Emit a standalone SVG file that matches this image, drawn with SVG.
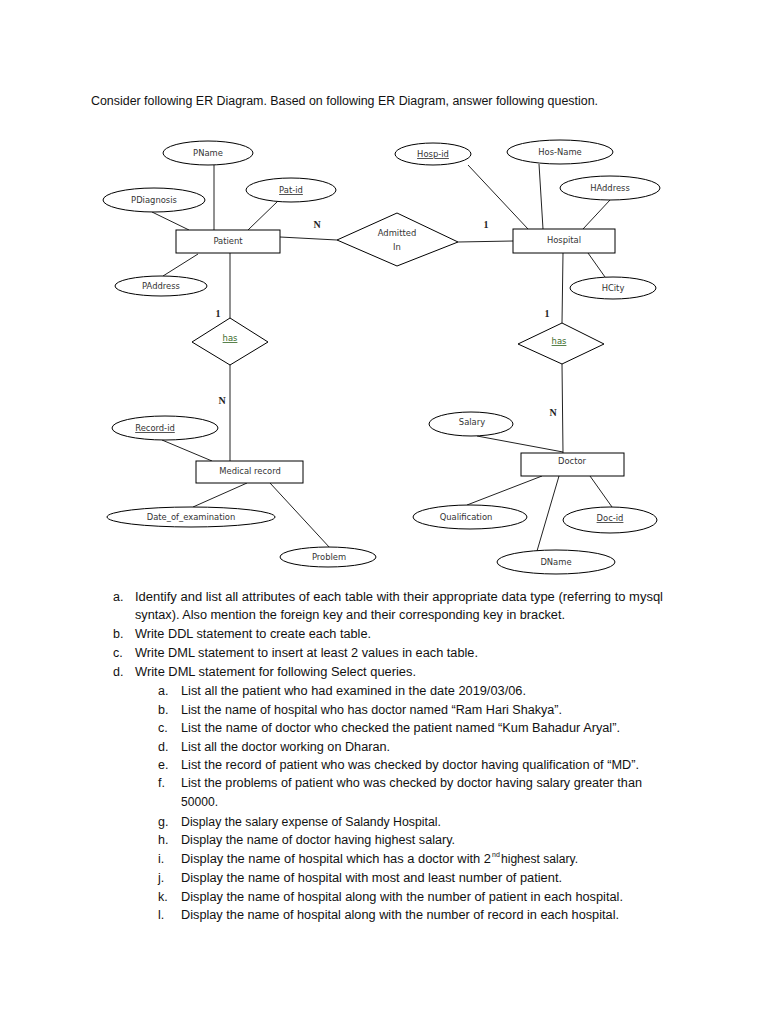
<svg xmlns="http://www.w3.org/2000/svg" width="768" height="1024" viewBox="0 0 768 1024">
<style>
.bg{fill:#fff}
.shape{fill:#fff;stroke:#000;stroke-width:1}
.conn line{stroke:#222;stroke-width:1}
.lbl{font-family:"DejaVu Sans",sans-serif;font-size:8.4px;fill:#333;text-anchor:middle}
.key{text-decoration:underline}
.has{fill:#3a6b2a;text-decoration:underline}
.card{font-family:"Liberation Serif",serif;font-size:10px;font-weight:bold;fill:#222;text-anchor:middle}
.q{font-family:"Liberation Sans",Arial,sans-serif;font-size:12.5px;fill:#111}
.sup{font-family:"Liberation Sans",Arial,sans-serif;font-size:7px;fill:#111}
</style>
<rect class="bg" x="0" y="0" width="768" height="1024"/>
<text class="q" x="91" y="105" textLength="507" lengthAdjust="spacingAndGlyphs">Consider following ER Diagram. Based on following ER Diagram, answer following question.</text>

<g id="connectors" class="conn">
<line x1="214" y1="165" x2="214" y2="230"/>
<line x1="152" y1="212" x2="189" y2="230"/>
<line x1="278" y1="201" x2="248" y2="230"/>
<line x1="198" y1="254" x2="163" y2="276"/>
<line x1="230" y1="253" x2="230" y2="318"/>
<line x1="280" y1="237" x2="337" y2="240"/>
<line x1="458" y1="242" x2="513" y2="241"/>
<line x1="468" y1="165" x2="528" y2="229"/>
<line x1="539" y1="164" x2="543" y2="229"/>
<line x1="610" y1="200" x2="583" y2="229"/>
<line x1="588" y1="253" x2="605" y2="277"/>
<line x1="563" y1="253" x2="562" y2="323"/>
<line x1="230" y1="365" x2="230" y2="461"/>
<line x1="162" y1="440" x2="212" y2="461"/>
<line x1="247" y1="483" x2="193" y2="507"/>
<line x1="270" y1="483" x2="330" y2="548"/>
<line x1="562" y1="364" x2="563" y2="453"/>
<line x1="477" y1="436" x2="563" y2="452"/>
<line x1="542" y1="476" x2="467" y2="505"/>
<line x1="590" y1="476" x2="612" y2="507"/>
<line x1="559" y1="476" x2="537" y2="551"/>
</g>

<g id="cardinalities">
<text class="card" x="317" y="228">N</text>
<text class="card" x="486" y="228">1</text>
<text class="card" x="218" y="317">1</text>
<text class="card" x="222" y="404">N</text>
<text class="card" x="547" y="317">1</text>
<text class="card" x="553" y="416">N</text>
</g>

<g id="patient"><rect class="shape" x="176" y="230" width="104" height="23"/><text class="lbl" x="228" y="244">Patient</text></g>
<g id="pname"><ellipse class="shape" cx="208" cy="153" rx="45" ry="12"/><text class="lbl" x="208" y="156">PName</text></g>
<g id="patid"><ellipse class="shape" cx="291" cy="190" rx="45" ry="12"/><text class="lbl key" x="291" y="193">Pat-id</text></g>
<g id="pdiagnosis"><ellipse class="shape" cx="154" cy="200" rx="51" ry="12"/><text class="lbl" x="154" y="203">PDiagnosis</text></g>
<g id="paddress"><ellipse class="shape" cx="161" cy="286" rx="46" ry="10"/><text class="lbl" x="161" y="289">PAddress</text></g>

<g id="admitted"><polygon class="shape" points="337,240 397,213 458,242 397,266"/><text class="lbl" x="397" y="236">Admitted</text><text class="lbl" x="397" y="250">In</text></g>

<g id="hospital"><rect class="shape" x="513" y="229" width="102" height="24"/><text class="lbl" x="564" y="243">Hospital</text></g>
<g id="hospid"><ellipse class="shape" cx="433" cy="154" rx="38" ry="11"/><text class="lbl key" x="433" y="157">Hosp-id</text></g>
<g id="hosname"><ellipse class="shape" cx="560" cy="152" rx="53" ry="12"/><text class="lbl" x="560" y="155">Hos-Name</text></g>
<g id="haddress"><ellipse class="shape" cx="610" cy="188" rx="50" ry="12"/><text class="lbl" x="610" y="191">HAddress</text></g>
<g id="hcity"><ellipse class="shape" cx="613" cy="288" rx="43" ry="11"/><text class="lbl" x="613" y="291">HCity</text></g>

<g id="has1"><polygon class="shape" points="192,342 230,318 268,342 230,365"/><text class="lbl has" x="230" y="341">has</text></g>
<g id="has2"><polygon class="shape" points="518,344 562,323 604,344 562,364"/><text class="lbl has" x="559" y="344">has</text></g>

<g id="medicalrecord"><rect class="shape" x="196" y="461" width="107" height="22"/><text class="lbl" x="250" y="474">Medical record</text></g>
<g id="recordid"><ellipse class="shape" cx="165" cy="428" rx="53" ry="12"/><text class="lbl key" x="155" y="431">Record-id</text></g>
<g id="dateofexam"><ellipse class="shape" cx="191" cy="517" rx="84" ry="10"/><text class="lbl" x="191" y="520">Date_of_examination</text></g>
<g id="problem"><ellipse class="shape" cx="328" cy="557" rx="48" ry="10"/><text class="lbl" x="329" y="560">Problem</text></g>

<g id="doctor"><rect class="shape" x="521" y="453" width="103" height="23"/><text class="lbl" x="572" y="464">Doctor</text></g>
<g id="salary"><ellipse class="shape" cx="471" cy="424" rx="42" ry="12"/><text class="lbl" x="472" y="425">Salary</text></g>
<g id="qualification"><ellipse class="shape" cx="470" cy="517" rx="57" ry="12"/><text class="lbl" x="466" y="520">Qualification</text></g>
<g id="docid"><ellipse class="shape" cx="610" cy="520" rx="47" ry="13"/><text class="lbl key" x="610" y="521">Doc-id</text></g>
<g id="dname"><ellipse class="shape" cx="556" cy="562" rx="59" ry="12"/><text class="lbl" x="556" y="565">DName</text></g>

<g id="questions">
<text class="q" x="113" y="601">a.</text>
<text class="q" x="135" y="601" textLength="528" lengthAdjust="spacingAndGlyphs">Identify and list all attributes of each table with their appropriate data type (referring to mysql</text>
<text class="q" x="135" y="619" textLength="430" lengthAdjust="spacingAndGlyphs">syntax). Also mention the foreign key and their corresponding key in bracket.</text>
<text class="q" x="113" y="638">b.</text>
<text class="q" x="135" y="638" textLength="236" lengthAdjust="spacingAndGlyphs">Write DDL statement to create each table.</text>
<text class="q" x="113" y="657">c.</text>
<text class="q" x="135" y="657" textLength="343" lengthAdjust="spacingAndGlyphs">Write DML statement to insert at least 2 values in each table.</text>
<text class="q" x="113" y="676">d.</text>
<text class="q" x="135" y="676" textLength="281" lengthAdjust="spacingAndGlyphs">Write DML statement for following Select queries.</text>
<text class="q" x="158" y="695">a.</text>
<text class="q" x="181" y="695" textLength="345" lengthAdjust="spacingAndGlyphs">List all the patient who had examined in the date 2019/03/06.</text>
<text class="q" x="158" y="714">b.</text>
<text class="q" x="181" y="714" textLength="381" lengthAdjust="spacingAndGlyphs">List the name of hospital who has doctor named “Ram Hari Shakya”.</text>
<text class="q" x="158" y="732">c.</text>
<text class="q" x="181" y="732" textLength="439" lengthAdjust="spacingAndGlyphs">List the name of doctor who checked the patient named “Kum Bahadur Aryal”.</text>
<text class="q" x="158" y="751">d.</text>
<text class="q" x="181" y="751" textLength="209" lengthAdjust="spacingAndGlyphs">List all the doctor working on Dharan.</text>
<text class="q" x="158" y="769">e.</text>
<text class="q" x="181" y="769" textLength="458" lengthAdjust="spacingAndGlyphs">List the record of patient who was checked by doctor having qualification of “MD”.</text>
<text class="q" x="158" y="787">f.</text>
<text class="q" x="181" y="787" textLength="461" lengthAdjust="spacingAndGlyphs">List the problems of patient who was checked by doctor having salary greater than</text>
<text class="q" x="181" y="806" textLength="37" lengthAdjust="spacingAndGlyphs">50000.</text>
<text class="q" x="158" y="826">g.</text>
<text class="q" x="181" y="826" textLength="260" lengthAdjust="spacingAndGlyphs">Display the salary expense of Salandy Hospital.</text>
<text class="q" x="158" y="844">h.</text>
<text class="q" x="181" y="844" textLength="274" lengthAdjust="spacingAndGlyphs">Display the name of doctor having highest salary.</text>
<text class="q" x="158" y="863">i.</text>
<text class="q" x="181" y="863" textLength="310" lengthAdjust="spacingAndGlyphs">Display the name of hospital which has a doctor with 2</text>
<text class="sup" x="492" y="857">nd</text>
<text class="q" x="501" y="863" textLength="77" lengthAdjust="spacingAndGlyphs">highest salary.</text>
<text class="q" x="158" y="882">j.</text>
<text class="q" x="181" y="882" textLength="381" lengthAdjust="spacingAndGlyphs">Display the name of hospital with most and least number of patient.</text>
<text class="q" x="158" y="901">k.</text>
<text class="q" x="181" y="901" textLength="442" lengthAdjust="spacingAndGlyphs">Display the name of hospital along with the number of patient in each hospital.</text>
<text class="q" x="158" y="919">l.</text>
<text class="q" x="181" y="919" textLength="438" lengthAdjust="spacingAndGlyphs">Display the name of hospital along with the number of record in each hospital.</text>
</g>
</svg>
